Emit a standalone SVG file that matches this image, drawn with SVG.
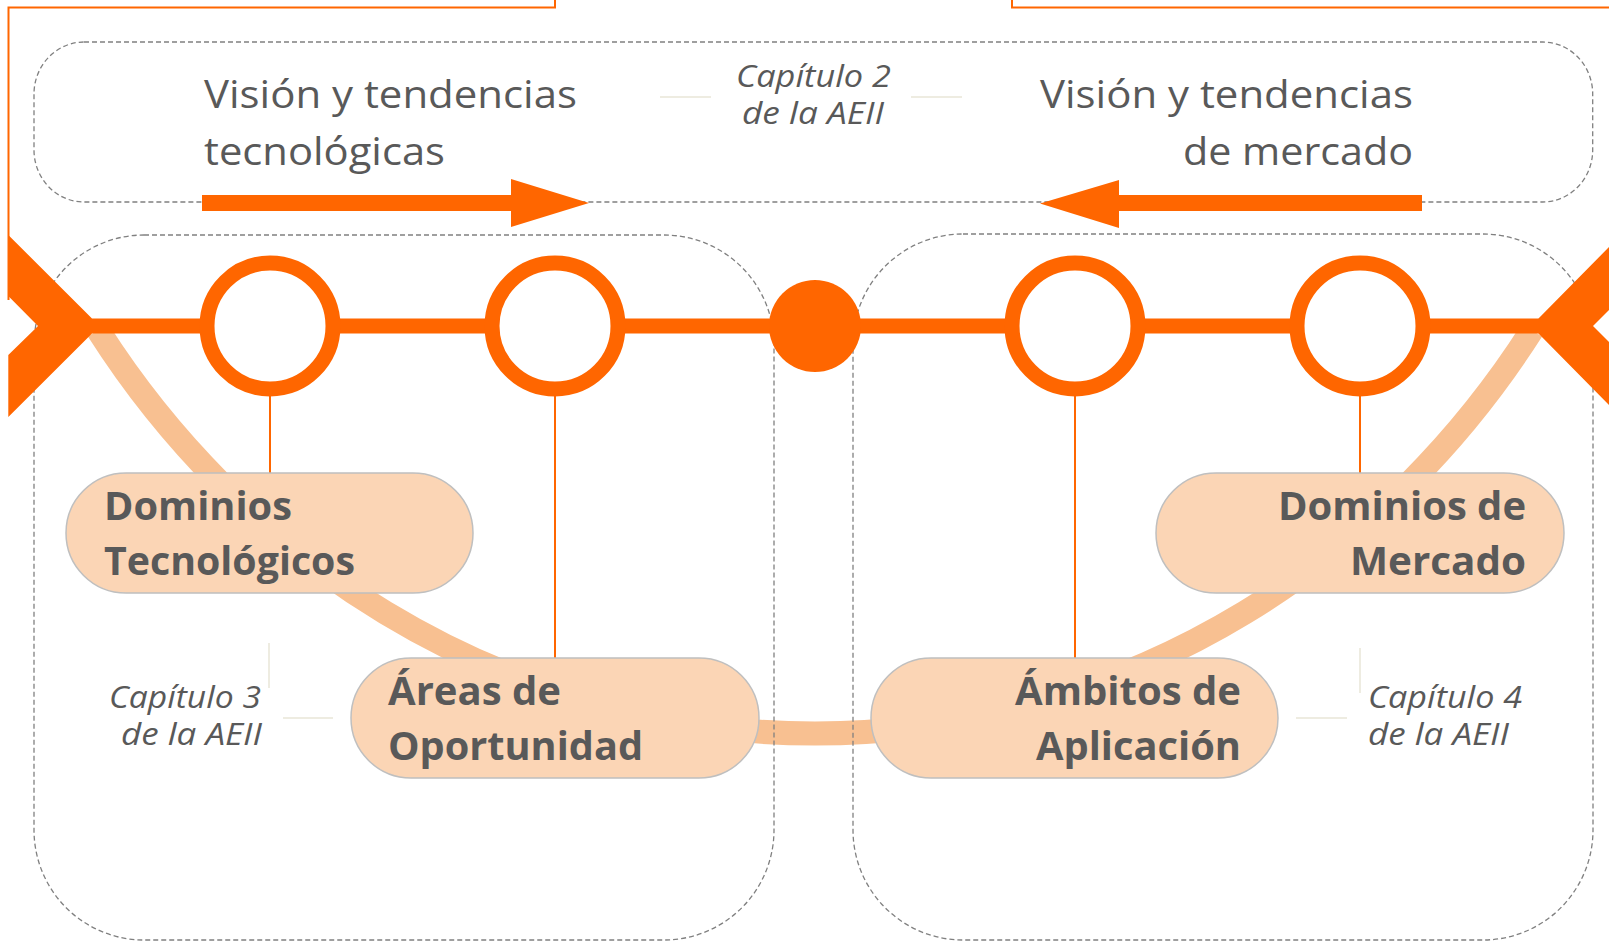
<svg xmlns="http://www.w3.org/2000/svg" width="1609" height="945" viewBox="0 0 1609 945">
<style>
.dash{fill:none;stroke:#808080;stroke-width:1.3;stroke-dasharray:5 3}
.deco{fill:none;stroke:#EEECE1;stroke-width:2}
.or{fill:#FF6600}
.ring{fill:#FFFFFF;stroke:#FF6600;stroke-width:15}
.thin{stroke:#FF6600;stroke-width:2;fill:none}
.pill{fill:#FBD5B5;stroke:#BFBFBF;stroke-width:1.5}
.nt{font-family:'Open Sans','DejaVu Sans',sans-serif;font-weight:bold;font-size:40px;fill:#595959}
.tt{font-family:'Open Sans','DejaVu Sans',sans-serif;font-size:39px;fill:#595959}
.ct{font-family:'Open Sans','DejaVu Sans',sans-serif;font-style:italic;font-size:31px;fill:#595959}
</style>
<rect width="1609" height="945" fill="#FFFFFF"/>

<g id="frame-lines">
<path d="M555,0 V7.5 H8.5 V300" class="thin" stroke-width="2.5"/>
<path d="M1012,0 V7.5 H1609" class="thin" stroke-width="2.5"/>
</g>

<g id="connectors">
<path d="M98,330 A865 916 0 0 0 1532,330" fill="none" stroke="#F8C091" stroke-width="24"/>
</g>

<g id="zones">
<rect x="34" y="42" width="1558.7" height="160" rx="50" ry="52" class="dash"/>
<rect x="34" y="235" width="740" height="705" rx="110" ry="110" class="dash"/>
<rect x="853" y="234" width="740" height="706" rx="110" ry="110" class="dash"/>
</g>

<g id="connectors-main">
<line x1="92" y1="326" x2="1540" y2="326" stroke="#FF6600" stroke-width="15"/>
<line x1="270" y1="396" x2="270" y2="473" class="thin"/>
<line x1="555" y1="396" x2="555" y2="658" class="thin"/>
<line x1="1075" y1="396" x2="1075" y2="658" class="thin"/>
<line x1="1360" y1="396" x2="1360" y2="473" class="thin"/>
<polygon class="or" points="202,195 511,195 511,179 589,203 511,227 511,211 202,211"/>
<polygon class="or" points="1422,195 1119,195 1119,180 1040,203.5 1119,228 1119,211 1422,211"/>
</g>

<g id="chevron-left"><polygon class="or" points="8.3,235 92,318.5 92,333.5 8.3,417 8.3,355 38,326 8.3,296"/></g>
<g id="chevron-right"><polygon class="or" points="1538.5,318.5 1609,247 1609,310 1593,326 1609,342 1609,405 1538.5,333.5"/></g>

<g id="ring-1"><circle cx="270" cy="326" r="63" class="ring"/></g>
<g id="ring-2"><circle cx="555" cy="326" r="63" class="ring"/></g>
<g id="hub"><circle cx="815" cy="326" r="46" class="or"/></g>
<g id="ring-3"><circle cx="1075" cy="326" r="63" class="ring"/></g>
<g id="ring-4"><circle cx="1360" cy="326" r="63" class="ring"/></g>

<g id="node-dominios-tecnologicos">
<rect x="66" y="473" width="407" height="120" rx="60" class="pill"/>
<text class="nt" x="104" y="520" textLength="188" lengthAdjust="spacingAndGlyphs">Dominios</text>
<text class="nt" x="104" y="575" textLength="251" lengthAdjust="spacingAndGlyphs">Tecnológicos</text>
</g>

<g id="node-areas-oportunidad">
<rect x="351" y="658" width="408" height="120" rx="60" class="pill"/>
<text class="nt" x="388" y="705" textLength="173" lengthAdjust="spacingAndGlyphs">Áreas de</text>
<text class="nt" x="388" y="760" textLength="255" lengthAdjust="spacingAndGlyphs">Oportunidad</text>
</g>

<g id="node-dominios-mercado">
<rect x="1156" y="473" width="408" height="120" rx="60" class="pill"/>
<text class="nt" x="1278" y="520" textLength="248" lengthAdjust="spacingAndGlyphs">Dominios de</text>
<text class="nt" x="1350" y="575" textLength="176" lengthAdjust="spacingAndGlyphs">Mercado</text>
</g>

<g id="node-ambitos-aplicacion">
<rect x="871" y="658" width="407" height="120" rx="60" class="pill"/>
<text class="nt" x="1015" y="705" textLength="226" lengthAdjust="spacingAndGlyphs">Ámbitos de</text>
<text class="nt" x="1036" y="760" textLength="205" lengthAdjust="spacingAndGlyphs">Aplicación</text>
</g>

<g id="label-vision-tecnologica">
<text class="tt" x="204" y="108" textLength="373" lengthAdjust="spacingAndGlyphs">Visión y tendencias</text>
<text class="tt" x="204" y="165" textLength="241" lengthAdjust="spacingAndGlyphs">tecnológicas</text>
</g>

<g id="label-vision-mercado">
<text class="tt" x="1040" y="108" textLength="373" lengthAdjust="spacingAndGlyphs">Visión y tendencias</text>
<text class="tt" x="1183" y="165" textLength="230" lengthAdjust="spacingAndGlyphs">de mercado</text>
</g>

<g id="label-capitulo-2">
<line x1="660" y1="97" x2="711" y2="97" class="deco"/>
<line x1="911" y1="97" x2="962" y2="97" class="deco"/>
<text class="ct" x="736" y="87" textLength="155" lengthAdjust="spacingAndGlyphs">Capítulo 2</text>
<text class="ct" x="742" y="124" textLength="142" lengthAdjust="spacingAndGlyphs">de la AEII</text>
</g>

<g id="label-capitulo-3">
<line x1="269" y1="643" x2="269" y2="688" class="deco"/>
<line x1="283" y1="718" x2="333" y2="718" class="deco"/>
<text class="ct" x="109" y="708" textLength="152" lengthAdjust="spacingAndGlyphs">Capítulo 3</text>
<text class="ct" x="121" y="745" textLength="141" lengthAdjust="spacingAndGlyphs">de la AEII</text>
</g>

<g id="label-capitulo-4">
<line x1="1360" y1="648" x2="1360" y2="693" class="deco"/>
<line x1="1296" y1="718" x2="1347" y2="718" class="deco"/>
<text class="ct" x="1368" y="708" textLength="154" lengthAdjust="spacingAndGlyphs">Capítulo 4</text>
<text class="ct" x="1368" y="745" textLength="141" lengthAdjust="spacingAndGlyphs">de la AEII</text>
</g>
</svg>
